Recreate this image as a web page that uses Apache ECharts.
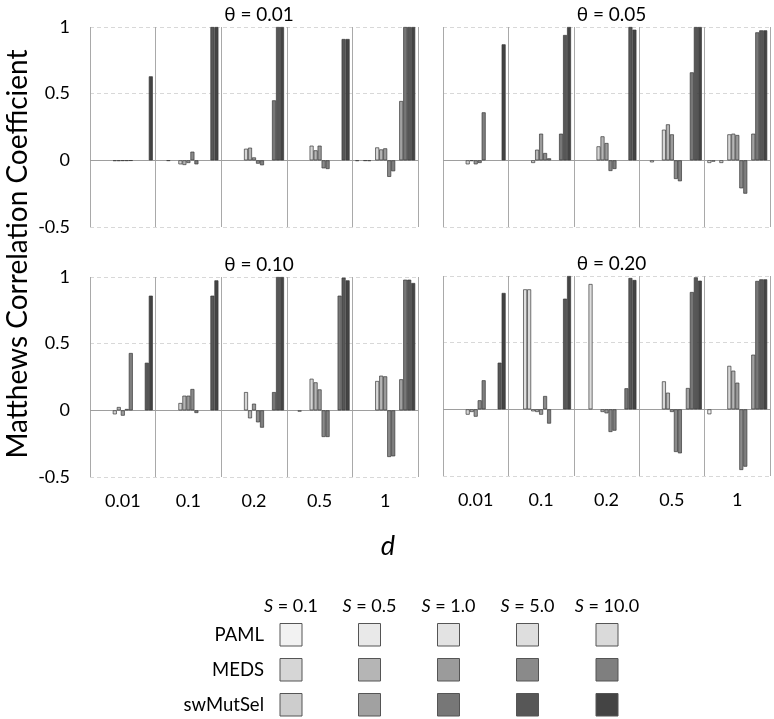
<!DOCTYPE html>
<html><head><meta charset="utf-8">
<script src="https://cdn.jsdelivr.net/npm/echarts@6/dist/echarts.min.js"></script>
<style>html,body{margin:0;padding:0;background:#fff}#c{width:774px;height:719px}</style>
</head><body><div id="c"></div>
<script>
// ---- data ----
const dCategories = ['0.01', '0.1', '0.2', '0.5', '1'];
const thetaLabels = ['θ = 0.01', 'θ = 0.05', 'θ = 0.10', 'θ = 0.20'];
const sLabels = ['0.1', '0.5', '1.0', '5.0', '10.0'];
const methods = ['PAML', 'MEDS', 'swMutSel'];
const yMin = -0.5, yMax = 1, yStep = 0.5;

// rows: S = 0.1, 0.5, 1.0, 5.0, 10.0 ; columns: d = 0.01, 0.1, 0.2, 0.5, 1
const paml_t001 = [
  [null, null, null, null, -0.005],
  [null, null, null, null, null],
  [null, -0.004, null, null, -0.004],
  [null, null, null, null, -0.005],
  [null, null, null, null, null]
];
const meds_t001 = [
  [-0.005, -0.03, 0.087, 0.11, 0.097],
  [-0.005, -0.035, 0.095, 0.075, 0.082],
  [-0.004, -0.02, 0.022, 0.11, 0.09],
  [-0.004, 0.065, -0.025, -0.06, -0.124],
  [-0.003, -0.03, -0.037, -0.065, -0.082]
];
const swms_t001 = [
  [null, null, null, null, null],
  [null, null, null, null, 0.445],
  [null, null, 0.45, null, 1],
  [null, 1, 1, 0.91, 1],
  [0.63, 1, 1, 0.91, 1]
];

const paml_t005 = [
  [null, null, null, null, -0.02],
  [null, null, null, null, -0.01],
  [null, null, null, -0.015, null],
  [null, null, null, null, -0.02],
  [null, null, null, null, null]
];
const meds_t005 = [
  [-0.03, -0.02, 0.105, 0.23, 0.195],
  [-0.005, 0.08, 0.18, 0.27, 0.2],
  [-0.03, 0.2, 0.13, 0.195, 0.19],
  [-0.02, 0.055, -0.08, -0.14, -0.21],
  [0.36, 0.015, -0.065, -0.157, -0.25]
];
const swms_t005 = [
  [null, null, null, null, null],
  [null, null, null, null, 0.2],
  [null, 0.2, null, 0.66, 0.96],
  [null, 0.94, 1, 1, 0.975],
  [0.87, 1, 0.98, 1, 0.975]
];

const paml_t010 = [
  [null, null, null, null, null],
  [null, null, null, null, null],
  [null, null, null, -0.01, null],
  [null, null, null, null, null],
  [null, null, null, null, null]
];
const meds_t010 = [
  [-0.03, 0.055, 0.137, 0.237, 0.22],
  [0.025, 0.11, -0.06, 0.21, 0.26],
  [-0.04, 0.11, 0.05, 0.157, 0.255],
  [0.01, 0.16, -0.09, -0.2, -0.35],
  [0.43, -0.02, -0.13, -0.2, -0.345]
];
const swms_t010 = [
  [null, null, null, null, null],
  [null, null, null, null, 0.233],
  [null, null, 0.137, 0.86, 0.98],
  [0.357, 0.86, 1, 0.995, 0.98],
  [0.86, 0.975, 1, 0.975, 0.955]
];

const paml_t020 = [
  [null, null, null, null, -0.037],
  [null, null, null, null, null],
  [null, null, null, null, null],
  [null, 0.9, 0.94, null, null],
  [null, 0.9, null, null, null]
];
const meds_t020 = [
  [-0.04, -0.015, null, 0.21, 0.326],
  [-0.02, -0.02, -0.02, 0.125, 0.29],
  [-0.055, -0.04, -0.03, -0.02, 0.2],
  [0.068, 0.1, -0.17, -0.32, -0.455],
  [0.218, -0.107, -0.16, -0.33, -0.43]
];
const swms_t020 = [
  [null, null, null, null, null],
  [null, null, null, 0.16, 0.41],
  [null, null, 0.158, 0.88, 0.963],
  [0.35, 0.83, 0.985, 0.99, 0.975],
  [0.873, 1, 0.97, 0.965, 0.975]
];

const pamlColors = ['#f2f2f2', '#e9e9e9', '#e3e3e3', '#dedede', '#dadada'];
const medsColors = ['#d6d6d6', '#b5b5b5', '#9b9b9b', '#8a8a8a', '#7f7f7f'];
const swmsColors = ['#cdcdcd', '#a1a1a1', '#777777', '#575757', '#444444'];

// ---- assembly ----
const panels = [
  [paml_t001, meds_t001, swms_t001],
  [paml_t005, meds_t005, swms_t005],
  [paml_t010, meds_t010, swms_t010],
  [paml_t020, meds_t020, swms_t020]
];
const methodColors = [pamlColors, medsColors, swmsColors];

const FONT = 'Lato, "Open Sans", sans-serif';
const gridBoxes = [
  { left: 90, top: 27, width: 328, height: 200 },
  { left: 443, top: 27, width: 327, height: 200 },
  { left: 90, top: 277, width: 328, height: 200 },
  { left: 443, top: 276, width: 327, height: 200 }
];

const xAxes = [], yAxes = [], series = [], titles = [];
gridBoxes.forEach((g, p) => {
  const isBottom = p >= 2, isLeft = p % 2 === 0;
  xAxes.push({
    type: 'category', gridIndex: p, data: dCategories, boundaryGap: true,
    axisLine: { show: false }, axisTick: { show: false },
    axisLabel: { show: isBottom, fontSize: 18, color: '#000', fontFamily: FONT, margin: 15, interval: 0 },
    splitLine: { show: true, interval: 0, lineStyle: { color: '#a9a9a9', width: 1 } }
  });
  yAxes.push({
    type: 'value', gridIndex: p, min: yMin, max: yMax, interval: yStep,
    axisLine: { show: false }, axisTick: { show: false },
    axisLabel: { show: isLeft, fontSize: 18, color: '#000', fontFamily: FONT, margin: 20 },
    splitLine: { show: true, lineStyle: { color: '#d8d8d8', type: [4, 3], width: 1 } }
  });
  titles.push({
    text: thetaLabels[p],
    left: g.left + g.width / 2, top: g.top - 27, textAlign: 'center',
    textStyle: { fontSize: 19, fontWeight: 'normal', color: '#000', fontFamily: FONT }
  });
  panels[p].forEach((mArr, m) => {
    mArr.forEach((vals, s) => {
      const ser = {
        type: 'bar', xAxisIndex: p, yAxisIndex: p,
        name: methods[m] + ' S=' + sLabels[s],
        data: vals,
        barGap: '0%', barCategoryGap: '8.5%',
        itemStyle: { color: methodColors[m][s], borderColor: '#3a3a3a', borderWidth: 0.7 },
        silent: true
      };
      if (m === 0 && s === 0) {
        ser.markLine = {
          silent: true, symbol: ['none', 'none'], label: { show: false },
          lineStyle: { color: '#9e9e9e', type: 'solid', width: 1 },
          data: [{ yAxis: 0 }], z: 1
        };
      }
      series.push(ser);
    });
  });
});

// ---- legend (grid of swatches) ----
const colX = [280, 358.5, 437.5, 516.5, 596];
const rowY = [623.5, 658.5, 693.5];
const graphics = [];
graphics.push({
  type: 'text', x: 18, y: 254, rotation: Math.PI / 2,
  style: { text: 'Matthews Correlation Coefficient', fontSize: 28, fill: '#000', fontFamily: FONT, align: 'center', verticalAlign: 'middle' }
});
graphics.push({
  type: 'text', x: 388, y: 546,
  style: { text: 'd', fontSize: 27, fontStyle: 'italic', fill: '#000', fontFamily: FONT, align: 'center', verticalAlign: 'middle' }
});
sLabels.forEach((s, j) => {
  graphics.push({
    type: 'text', x: colX[j] + 11, y: 606,
    style: {
      text: '{i|S} = ' + s, fontSize: 18, fill: '#000', fontFamily: FONT, align: 'center', verticalAlign: 'middle',
      rich: { i: { fontStyle: 'italic', fontSize: 18, fontFamily: FONT } }
    }
  });
});
methods.forEach((mName, i) => {
  graphics.push({
    type: 'text', x: 264, y: rowY[i] + 11.5,
    style: { text: mName, fontSize: 18.5, fill: '#000', fontFamily: FONT, align: 'right', verticalAlign: 'middle' }
  });
  methodColors[i].forEach((c, j) => {
    graphics.push({
      type: 'rect', shape: { x: colX[j], y: rowY[i], width: 22, height: 22.5 },
      style: { fill: c, stroke: '#555', lineWidth: 1 }
    });
  });
});

const chart = echarts.init(document.getElementById('c'));
chart.setOption({
  animation: false,
  backgroundColor: '#fff',
  title: titles,
  grid: gridBoxes,
  xAxis: xAxes,
  yAxis: yAxes,
  series: series,
  graphic: graphics
});
</script>
</body></html>
